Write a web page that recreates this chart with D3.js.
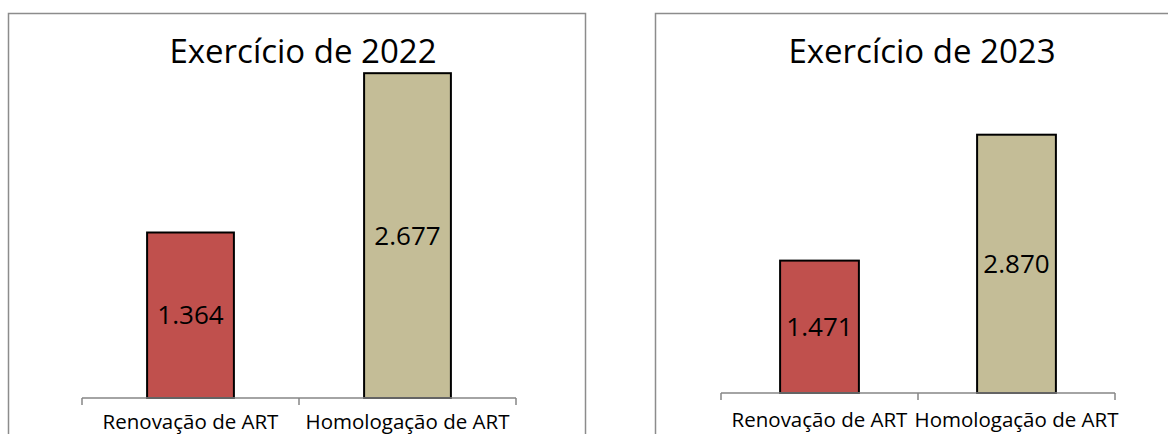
<!DOCTYPE html>
<html>
<head>
<meta charset="utf-8">
<script src="https://cdn.jsdelivr.net/npm/d3@7"></script>
<style>
html,body{margin:0;padding:0;background:#fff;overflow:hidden;}
svg{display:block;}
text{font-family:"Open Sans",sans-serif;fill:#000;}
</style>
</head>
<body>
<svg id="chart" width="1168" height="434"></svg>
<script>
const categories = ["Renovação de ART", "Homologação de ART"];
const values2022 = [1364, 2677];
const values2023 = [1471, 2870];
const valueLabels2022 = ["1.364", "2.677"];
const valueLabels2023 = ["1.471", "2.870"];
const titles = ["Exercício de 2022", "Exercício de 2023"];
const barColors = ["#C0504D", "#C4BD97"];

const svg = d3.select("#chart");

const panels = [
  {title: titles[0], values: values2022, labels: valueLabels2022,
   frame: {x: 8.5, y: 13.5, w: 577, h: 440},
   xRange: [82, 516], yBase: 398, yMax: 3000, yTop: 34, titleY: 63, catY: 429},
  {title: titles[1], values: values2023, labels: valueLabels2023,
   frame: {x: 655.5, y: 13.5, w: 530, h: 440},
   xRange: [721, 1115], yBase: 393, yMax: 3500, yTop: 78, titleY: 63, catY: 427}
];

panels.forEach(p => {
  const g = svg.append("g");
  g.append("rect")
    .attr("x", p.frame.x).attr("y", p.frame.y)
    .attr("width", p.frame.w).attr("height", p.frame.h)
    .attr("fill", "#fff").attr("stroke", "#8c8c8c").attr("stroke-width", 1.5);

  const x = d3.scaleBand().domain(categories).range(p.xRange)
    .paddingInner(0.6).paddingOuter(0.3);
  const y = d3.scaleLinear().domain([0, p.yMax]).range([p.yBase, p.yTop]);

  g.append("text")
    .attr("x", (p.xRange[0] + p.xRange[1]) / 2 + 4)
    .attr("y", p.titleY)
    .attr("text-anchor", "middle")
    .style("font-size", "33px")
    .text(p.title);

  const data = categories.map((c, i) => ({c, v: p.values[i], l: p.labels[i], col: barColors[i]}));

  g.selectAll("rect.bar").data(data).enter().append("rect")
    .attr("class", "bar")
    .attr("x", d => x(d.c))
    .attr("y", d => y(d.v))
    .attr("width", x.bandwidth())
    .attr("height", d => y(0) - y(d.v))
    .attr("fill", d => d.col)
    .attr("stroke", "#000").attr("stroke-width", 2);

  const axisG = g.append("g").attr("transform", `translate(0,${p.yBase})`);
  const outer = d3.scaleLinear().domain([0, categories.length]).range(p.xRange);
  axisG.append("line")
    .attr("x1", p.xRange[0]).attr("x2", p.xRange[1])
    .attr("y1", 0).attr("y2", 0)
    .attr("stroke", "#868686").attr("stroke-width", 1.5);
  axisG.selectAll("line.tick").data(d3.range(categories.length + 1)).enter().append("line")
    .attr("class", "tick")
    .attr("x1", d => outer(d)).attr("x2", d => outer(d))
    .attr("y1", 0).attr("y2", 7)
    .attr("stroke", "#868686").attr("stroke-width", 1.5);

  g.selectAll("text.val").data(data).enter().append("text")
    .attr("class", "val")
    .attr("x", d => x(d.c) + x.bandwidth() / 2)
    .attr("y", d => (y(d.v) + y(0)) / 2)
    .attr("dy", "0.35em")
    .attr("text-anchor", "middle")
    .style("font-size", "26px")
    .text(d => d.l);

  g.selectAll("text.cat").data(data).enter().append("text")
    .attr("class", "cat")
    .attr("x", d => x(d.c) + x.bandwidth() / 2)
    .attr("y", p.catY)
    .attr("text-anchor", "middle")
    .style("font-size", "20.5px")
    .text(d => d.c);
});
</script>
</body>
</html>
